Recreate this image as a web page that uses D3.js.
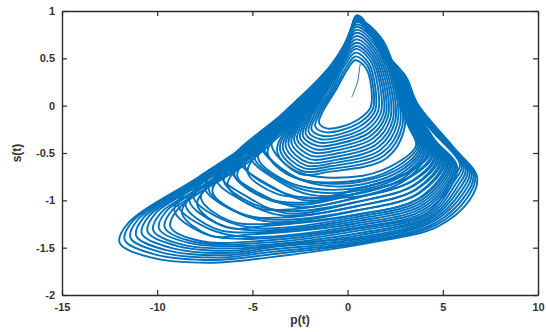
<!DOCTYPE html>
<html>
<head>
<meta charset="utf-8">
<script src="https://cdnjs.cloudflare.com/ajax/libs/d3/7.8.5/d3.min.js"></script>
<style>
  html, body { margin: 0; padding: 0; background: #fff; }
  svg text { font-family: "Liberation Sans", Arial, sans-serif; }
</style>
</head>
<body>
<svg id="chart" width="546" height="332"></svg>
<script>
// tick values
const xTicks = [-15, -10, -5, 0, 5, 10];
const yTicks = [-2, -1.5, -1, -0.5, 0, 0.5, 1];
const xLabel = 'p(t)';
const yLabel = 's(t)';

// loops, [p, s] pairs, innermost (around the hole) first
const innerLoops = [
  [[0.40,0.48],[0.95,0.40],[1.25,0.18],[1.2,-0.02],[0.6,-0.14],[-0.3,-0.22],[-1.1,-0.24],[-1.5,-0.18],[-1.3,-0.06],[-0.6,0.17],[-0.05,0.37]],
  [[0.42,0.56],[1.1,0.45],[1.45,0.2],[1.45,-0.05],[0.8,-0.2],[-0.4,-0.3],[-1.3,-0.32],[-1.9,-0.25],[-1.6,-0.09],[-0.8,0.17],[-0.2,0.41]],
  [[0.44,0.63],[1.25,0.5],[1.7,0.22],[1.75,-0.07],[1.0,-0.26],[-0.5,-0.37],[-1.5,-0.39],[-2.2,-0.3],[-1.9,-0.11],[-1.0,0.18],[-0.3,0.45]],
  [[0.45,0.70],[1.35,0.55],[1.9,0.24],[2.0,-0.1],[1.2,-0.32],[-0.6,-0.44],[-1.7,-0.46],[-2.5,-0.34],[-2.1,-0.12],[-1.1,0.2],[-0.35,0.5]],
  [[0.46,0.77],[1.45,0.6],[2.1,0.26],[2.25,-0.13],[1.4,-0.38],[-0.7,-0.51],[-1.9,-0.53],[-2.8,-0.37],[-2.3,-0.12],[-1.2,0.22],[-0.35,0.55]],
  [[0.46,0.83],[1.55,0.65],[2.3,0.27],[2.5,-0.16],[1.6,-0.44],[-0.8,-0.58],[-2.1,-0.6],[-3.1,-0.41],[-2.5,-0.13],[-1.3,0.24],[-0.3,0.6]],
  [[0.47,0.88],[1.65,0.7],[2.45,0.28],[2.75,-0.2],[1.8,-0.5],[-0.9,-0.64],[-2.3,-0.66],[-3.4,-0.45],[-2.6,-0.12],[-1.25,0.28],[-0.2,0.62]],
  [[0.48,0.91],[1.75,0.72],[2.6,0.28],[3.0,-0.22],[2.0,-0.56],[-1.0,-0.7],[-2.5,-0.72],[-3.7,-0.48],[-2.7,-0.1],[-1.15,0.33],[-0.1,0.66]]
];

// rings lying between the inner ones
const innerLoopsB = [
  [[0.41,0.52],[1.02,0.43],[1.35,0.19],[1.33,-0.035],[0.7,-0.17],[-0.35,-0.26],[-1.2,-0.28],[-1.7,-0.22],[-1.45,-0.075],[-0.7,0.17],[-0.12,0.39]],
  [[0.43,0.60],[1.18,0.48],[1.58,0.21],[1.6,-0.06],[0.9,-0.23],[-0.45,-0.335],[-1.4,-0.355],[-2.05,-0.275],[-1.75,-0.10],[-0.9,0.175],[-0.25,0.43]],
  [[0.445,0.665],[1.3,0.525],[1.8,0.23],[1.88,-0.085],[1.1,-0.29],[-0.55,-0.405],[-1.6,-0.425],[-2.35,-0.32],[-2.0,-0.115],[-1.05,0.19],[-0.32,0.475]],
  [[0.455,0.735],[1.4,0.575],[2.0,0.25],[2.12,-0.115],[1.3,-0.35],[-0.65,-0.475],[-1.8,-0.495],[-2.65,-0.355],[-2.2,-0.12],[-1.15,0.21],[-0.35,0.525]],
  [[0.46,0.80],[1.5,0.625],[2.2,0.265],[2.38,-0.145],[1.5,-0.41],[-0.75,-0.545],[-2.0,-0.565],[-2.95,-0.39],[-2.4,-0.125],[-1.25,0.23],[-0.32,0.575]],
  [[0.465,0.855],[1.6,0.675],[2.38,0.275],[2.62,-0.18],[1.7,-0.47],[-0.85,-0.61],[-2.2,-0.63],[-3.25,-0.43],[-2.55,-0.125],[-1.28,0.26],[-0.25,0.61]],
  [[0.475,0.895],[1.7,0.71],[2.52,0.28],[2.88,-0.21],[1.9,-0.53],[-0.95,-0.67],[-2.4,-0.69],[-3.55,-0.465],[-2.65,-0.11],[-1.2,0.3],[-0.15,0.64]]
];

const middleLoops = [
  [[0.48,0.92],[1.2,0.76],[1.9,0.5],[2.5,0.28],[2.75,0.02],[3.2,-0.22],[3.6,-0.42],[2.8,-0.58],[0.8,-0.74],[-2.6,-0.70],[-4.0,-0.41],[-3.2,-0.14],[-0.95,0.31],[0,0.64]],
  [[0.48,0.92],[1.2,0.76],[1.92,0.5],[2.53,0.28],[2.8,0.02],[3.3,-0.23],[3.76,-0.44],[2.9,-0.64],[0.8,-0.80],[-1.2,-0.82],[-2.9,-0.74],[-4.4,-0.44],[-3.6,-0.175],[-0.95,0.35],[0,0.66]],
  [[0.48,0.92],[1.2,0.76],[1.93,0.5],[2.56,0.28],[2.85,0.02],[3.4,-0.24],[3.92,-0.456],[3.0,-0.69],[0.8,-0.86],[-1.6,-0.88],[-3.2,-0.80],[-4.7,-0.55],[-3.9,-0.29],[-2.9,-0.11],[-0.95,0.29],[0,0.63]],
  [[0.48,0.92],[1.2,0.76],[1.95,0.5],[2.59,0.28],[2.9,0.02],[3.5,-0.25],[4.08,-0.474],[3.1,-0.74],[0.8,-0.92],[-2.0,-0.94],[-3.6,-0.80],[-5.1,-0.54],[-4.3,-0.28],[-2.9,-0.03],[-0.95,0.37],[0,0.676]],
  [[0.48,0.92],[1.2,0.76],[1.96,0.5],[2.62,0.28],[2.95,0.02],[3.6,-0.26],[4.24,-0.492],[3.2,-0.70],[0.5,-0.88],[-1.9,-0.98],[-3.9,-0.874],[-5.4,-0.634],[-4.6,-0.383],[-2.9,-0.08],[-0.95,0.32],[0,0.646]],
  [[0.48,0.92],[1.2,0.76],[1.98,0.5],[2.65,0.28],[3.0,0.02],[3.7,-0.27],[4.4,-0.51],[3.3,-0.745],[0.5,-0.925],[-2.3,-1.025],[-4.3,-0.978],[-5.8,-0.738],[-5.0,-0.504],[-2.9,-0.13],[-0.95,0.27],[0,0.616]],
  [[0.48,0.92],[1.2,0.76],[1.99,0.5],[2.68,0.28],[3.05,0.02],[3.8,-0.28],[4.56,-0.528],[3.4,-0.79],[0.5,-0.97],[-2.6,-1.07],[-4.6,-0.929],[-6.1,-0.689],[-5.3,-0.46],[-2.9,-0.04],[-0.95,0.36],[0,0.67]],
  [[0.48,0.92],[1.2,0.76],[2.0,0.5],[2.71,0.28],[3.1,0.02],[3.9,-0.29],[4.72,-0.546],[3.5,-0.835],[0.5,-1.015],[-3.0,-1.115],[-5.0,-1.034],[-6.5,-0.794],[-5.7,-0.565],[-2.9,-0.09],[-0.95,0.31],[0,0.64]],
  [[0.48,0.92],[1.2,0.76],[2.02,0.5],[2.74,0.28],[3.15,0.02],[4.0,-0.30],[4.88,-0.564],[3.6,-0.88],[0.5,-1.06],[-3.4,-1.16],[-5.4,-1.018],[-6.9,-0.778],[-6.1,-0.549],[-2.9,-0.02],[-0.95,0.38],[0,0.682]],
  [[0.48,0.92],[1.2,0.76],[2.03,0.5],[2.77,0.28],[3.2,0.02],[4.1,-0.31],[5.04,-0.582],[3.7,-0.925],[0.5,-1.105],[-3.8,-1.205],[-5.8,-1.122],[-7.3,-0.882],[-6.5,-0.654],[-5.15,-0.47],[-2.9,-0.07],[-0.95,0.33],[0,0.652]],
  [[0.48,0.92],[1.2,0.76],[2.05,0.5],[2.8,0.28],[3.25,0.02],[4.2,-0.32],[5.2,-0.60],[3.8,-0.97],[0.5,-1.15],[-4.2,-1.25],[-6.2,-1.217],[-7.7,-0.977],[-6.9,-0.748],[-5.15,-0.51],[-2.9,-0.11],[-0.95,0.29],[0,0.628]],
  [[0.48,0.92],[1.2,0.76],[2.06,0.5],[2.83,0.28],[3.3,0.02],[4.3,-0.33],[5.36,-0.618],[3.9,-0.995],[0.5,-1.175],[-4.6,-1.295],[-6.6,-1.20],[-8.1,-0.96],[-7.3,-0.732],[-5.15,-0.44],[-2.9,-0.04],[-0.95,0.36],[0,0.67]],
  [[0.48,0.92],[1.2,0.76],[2.08,0.5],[2.86,0.28],[3.35,0.02],[4.4,-0.34],[5.52,-0.636],[4.0,-1.04],[0.5,-1.22],[-5.0,-1.34],[-7.0,-1.295],[-8.5,-1.055],[-7.7,-0.827],[-5.15,-0.48],[-2.9,-0.08],[-0.95,0.32],[0,0.646]],
  [[0.48,0.92],[1.2,0.76],[2.1,0.5],[2.9,0.28],[3.4,0.02],[4.5,-0.35],[5.68,-0.654],[4.1,-1.085],[0.5,-1.265],[-5.4,-1.385],[-7.4,-1.29],[-8.9,-1.05],[-8.1,-0.82],[-5.15,-0.42],[-2.9,-0.02],[-0.95,0.38],[0,0.682]]
];

// second family of middle rings, lying between the ones above
const middleLoopsB = [
  [[0.47,0.91],[1.22,0.75],[1.91,0.5],[2.52,0.28],[2.78,0.02],[3.25,-0.225],[3.68,-0.43],[2.85,-0.61],[0.8,-0.78],[-2.8,-0.76],[-4.2,-0.501],[-3.4,-0.239],[-0.95,0.25],[0,0.604]],
  [[0.47,0.91],[1.22,0.75],[1.925,0.5],[2.55,0.28],[2.83,0.02],[3.35,-0.235],[3.84,-0.448],[2.95,-0.665],[0.8,-0.83],[-1.4,-0.84],[-3.05,-0.72],[-4.55,-0.424],[-3.75,-0.161],[-0.95,0.39],[0,0.688]],
  [[0.47,0.91],[1.22,0.75],[1.94,0.5],[2.58,0.28],[2.88,0.02],[3.45,-0.245],[4.0,-0.466],[3.05,-0.715],[0.8,-0.89],[-1.8,-0.91],[-3.4,-0.80],[-4.9,-0.546],[-4.1,-0.284],[-2.9,-0.07],[-0.95,0.33],[0,0.652]],
  [[0.47,0.91],[1.22,0.75],[1.955,0.5],[2.61,0.28],[2.93,0.02],[3.55,-0.255],[4.16,-0.484],[3.15,-0.77],[0.8,-0.95],[-2.1,-0.97],[-3.75,-0.93],[-5.25,-0.704],[-4.45,-0.446],[-2.9,-0.17],[-0.95,0.23],[0,0.592]],
  [[0.47,0.91],[1.22,0.75],[1.97,0.5],[2.64,0.28],[2.98,0.02],[3.65,-0.265],[4.32,-0.502],[3.25,-0.7025],[0.5,-0.8825],[-2.1,-1.0025],[-4.1,-0.841],[-5.6,-0.601],[-4.8,-0.358],[-2.9,-0.02],[-0.95,0.38],[0,0.682]],
  [[0.47,0.91],[1.22,0.75],[1.985,0.5],[2.67,0.28],[3.03,0.02],[3.75,-0.275],[4.48,-0.52],[3.35,-0.7475],[0.5,-0.9275],[-2.45,-1.0475],[-4.45,-0.969],[-5.95,-0.729],[-5.15,-0.50],[-2.9,-0.10],[-0.95,0.30],[0,0.634]],
  [[0.47,0.91],[1.22,0.75],[2.0,0.5],[2.7,0.28],[3.08,0.02],[3.85,-0.285],[4.64,-0.538],[3.45,-0.7925],[0.5,-0.9725],[-2.8,-1.0925],[-4.8,-1.076],[-6.3,-0.836],[-5.5,-0.608],[-2.9,-0.16],[-0.95,0.24],[0,0.598]],
  [[0.47,0.91],[1.22,0.75],[2.015,0.5],[2.73,0.28],[3.13,0.02],[3.95,-0.295],[4.8,-0.556],[3.55,-0.8375],[0.5,-1.0175],[-3.2,-1.1375],[-5.2,-0.971],[-6.7,-0.731],[-5.9,-0.502],[-2.9,0.0],[-0.95,0.40],[0,0.694]],
  [[0.47,0.91],[1.22,0.75],[2.03,0.5],[2.76,0.28],[3.18,0.02],[4.05,-0.305],[4.96,-0.574],[3.65,-0.8825],[0.5,-1.0625],[-3.6,-1.1825],[-5.6,-1.145],[-7.1,-0.905],[-6.3,-0.676],[-5.15,-0.52],[-2.9,-0.12],[-0.95,0.28],[0,0.622]],
  [[0.47,0.91],[1.22,0.75],[2.045,0.5],[2.79,0.28],[3.23,0.02],[4.15,-0.315],[5.12,-0.592],[3.75,-0.9275],[0.5,-1.1075],[-4.0,-1.2275],[-6.0,-1.11],[-7.5,-0.87],[-6.7,-0.641],[-5.15,-0.43],[-2.9,-0.03],[-0.95,0.37],[0,0.676]],
  [[0.47,0.91],[1.22,0.75],[2.06,0.5],[2.82,0.28],[3.28,0.02],[4.25,-0.325],[5.28,-0.61],[3.85,-0.9725],[0.5,-1.1525],[-4.4,-1.2725],[-6.4,-1.284],[-7.9,-1.044],[-7.1,-0.815],[-5.15,-0.55],[-2.9,-0.15],[-0.95,0.25],[0,0.604]],
  [[0.47,0.91],[1.22,0.75],[2.075,0.5],[2.85,0.28],[3.33,0.02],[4.35,-0.335],[5.44,-0.628],[3.95,-1.0175],[0.5,-1.1975],[-4.8,-1.3175],[-6.8,-1.248],[-8.3,-1.008],[-7.5,-0.78],[-5.15,-0.46],[-2.9,-0.06],[-0.95,0.34],[0,0.658]],
  [[0.47,0.91],[1.22,0.75],[2.09,0.5],[2.88,0.28],[3.38,0.02],[4.45,-0.345],[5.6,-0.646],[4.05,-1.0625],[0.5,-1.2425],[-5.2,-1.3625],[-7.2,-1.372],[-8.7,-1.132],[-7.9,-0.904],[-5.15,-0.53],[-2.9,-0.13],[-0.95,0.27],[0,0.616]],
  [[0.47,0.91],[1.22,0.75],[2.105,0.5],[2.91,0.28],[3.43,0.02],[4.55,-0.355],[5.76,-0.664],[4.15,-1.1075],[0.5,-1.2875],[-5.6,-1.4075],[-7.6,-1.346],[-9.1,-1.106],[-8.3,-0.878],[-5.15,-0.45],[-2.9,-0.05],[-0.95,0.35],[0,0.664]]
];

const outerLoops = [
  [[0.5,0.95],[1.3,0.77],[2.1,0.51],[2.9,0.3],[3.4,0.02],[4.4,-0.26],[5.9,-0.62],[5.5,-0.77],[4.2,-1.13],[0.5,-1.30],[-4.6,-1.43],[-7.73,-1.43],[-9.3,-1.28],[-8.9,-1.09],[-5.15,-0.59],[-2.9,-0.19],[-0.95,0.21],[0,0.58]],
  [[0.5,0.95],[1.3,0.77],[2.11,0.51],[2.92,0.3],[3.43,0.02],[4.53,-0.28],[6.0,-0.635],[5.6,-0.795],[4.26,-1.145],[0.57,-1.32],[-4.9,-1.455],[-8.03,-1.44],[-9.6,-1.29],[-9.2,-1.10],[-7.8,-0.92],[-5.15,-0.56],[-2.9,-0.16],[-0.95,0.24],[0,0.60]],
  [[0.5,0.95],[1.3,0.77],[2.12,0.51],[2.94,0.3],[3.46,0.02],[4.66,-0.30],[6.1,-0.65],[5.7,-0.82],[4.31,-1.16],[0.64,-1.345],[-5.2,-1.48],[-8.33,-1.45],[-9.9,-1.30],[-9.5,-1.11],[-7.8,-0.89],[-5.15,-0.53],[-2.9,-0.13],[-0.95,0.27],[0,0.616]],
  [[0.5,0.95],[1.3,0.77],[2.13,0.51],[2.96,0.3],[3.49,0.02],[4.79,-0.32],[6.2,-0.665],[5.8,-0.845],[4.37,-1.175],[0.71,-1.365],[-5.5,-1.505],[-8.63,-1.47],[-10.2,-1.32],[-9.8,-1.13],[-7.8,-0.87],[-5.15,-0.51],[-2.9,-0.11],[-0.95,0.29],[0,0.628]],
  [[0.5,0.95],[1.3,0.77],[2.14,0.51],[2.98,0.3],[3.52,0.02],[4.92,-0.34],[6.3,-0.68],[5.9,-0.87],[4.42,-1.19],[0.78,-1.385],[-4,-1.47],[-5.8,-1.53],[-8.93,-1.484],[-10.5,-1.334],[-10.1,-1.14],[-7.8,-0.84],[-5.15,-0.48],[-2.9,-0.08],[-0.95,0.32],[0,0.646]],
  [[0.5,0.95],[1.3,0.77],[2.15,0.51],[3.0,0.3],[3.55,0.02],[5.05,-0.36],[6.4,-0.695],[6.0,-0.895],[4.48,-1.205],[0.85,-1.40],[-4,-1.495],[-6.1,-1.555],[-9.23,-1.505],[-10.8,-1.355],[-10.4,-1.16],[-7.8,-0.82],[-5.15,-0.46],[-2.9,-0.06],[-0.95,0.34],[0,0.658]],
  [[0.5,0.95],[1.3,0.77],[2.16,0.51],[3.02,0.3],[3.58,0.02],[5.18,-0.38],[6.5,-0.71],[6.1,-0.92],[4.53,-1.22],[0.92,-1.415],[-4,-1.52],[-6.4,-1.58],[-9.53,-1.526],[-11.1,-1.376],[-10.7,-1.18],[-7.8,-0.80],[-5.15,-0.44],[-2.9,-0.04],[-0.95,0.36],[0,0.67]],
  [[0.5,0.95],[1.3,0.77],[2.17,0.51],[3.04,0.3],[3.61,0.02],[5.31,-0.40],[6.6,-0.725],[6.2,-0.945],[4.59,-1.24],[0.99,-1.43],[-4,-1.545],[-6.7,-1.605],[-9.83,-1.547],[-11.4,-1.397],[-11.0,-1.20],[-7.8,-0.78],[-5.15,-0.42],[-2.9,-0.02],[-0.95,0.38],[0,0.682]],
  [[0.5,0.95],[1.3,0.77],[2.18,0.51],[3.06,0.3],[3.64,0.02],[5.44,-0.42],[6.7,-0.74],[6.3,-0.97],[4.64,-1.26],[1.06,-1.44],[-4,-1.57],[-7.0,-1.63],[-10.13,-1.57],[-11.7,-1.42],[-11.3,-1.223],[-7.8,-0.765],[-5.15,-0.405],[-2.9,-0.005],[-0.95,0.395],[0,0.691]],
  [[0.5,0.95],[1.3,0.77],[2.19,0.51],[3.08,0.3],[3.67,0.02],[5.57,-0.44],[6.8,-0.755],[6.4,-1.0],[4.7,-1.28],[1.13,-1.45],[-4,-1.60],[-7.27,-1.66],[-10.4,-1.6],[-11.97,-1.45],[-11.57,-1.25],[-7.8,-0.75],[-5.15,-0.39],[-2.9,0.01],[-0.95,0.41],[0,0.70]]
];

// short start-up piece inside the hole
const transient = [[0.66,0.44],[0.62,0.38],[0.52,0.25],[0.22,0.09]];

const margin = { left: 62, right: 8, top: 11, bottom: 37 };
const W = 546, H = 332;

const svg = d3.select('#chart');

const x = d3.scaleLinear().domain([-15, 10]).range([margin.left, W - margin.right]);
const y = d3.scaleLinear().domain([-2, 1]).range([H - margin.bottom, margin.top]);

svg.append('defs').append('clipPath').attr('id', 'plotClip')
  .append('rect')
  .attr('x', x(-15)).attr('y', y(1))
  .attr('width', x(10) - x(-15)).attr('height', y(-2) - y(1));

const lineColor = '#0072BD';

const closedLine = d3.line()
  .x(function (d) { return x(d[0]); })
  .y(function (d) { return y(d[1]); })
  .curve(d3.curveCatmullRomClosed.alpha(0.5));

const openLine = d3.line()
  .x(function (d) { return x(d[0]); })
  .y(function (d) { return y(d[1]); })
  .curve(d3.curveCatmullRom.alpha(0.5));

const plot = svg.append('g').attr('clip-path', 'url(#plotClip)');

const allLoops = innerLoops.concat(innerLoopsB, middleLoops, middleLoopsB, outerLoops);

plot.selectAll('path.loop')
  .data(allLoops)
  .enter().append('path')
  .attr('class', 'loop')
  .attr('d', closedLine)
  .attr('fill', 'none')
  .attr('stroke', lineColor)
  .attr('stroke-width', 1.9)
  .attr('stroke-linejoin', 'round');

plot.append('path')
  .attr('d', openLine(transient))
  .attr('fill', 'none')
  .attr('stroke', '#3b6f9a')
  .attr('stroke-width', 1);

// axes, MATLAB style: box with inward ticks
const fmt = function (d) { return String(d); };
const axisColor = '#2b2b2b';

const gx = svg.append('g')
  .attr('transform', 'translate(0,' + y(-2) + ')')
  .call(d3.axisBottom(x).tickValues(xTicks).tickSize(-5).tickSizeOuter(0).tickPadding(8).tickFormat(fmt));

const gxTop = svg.append('g')
  .attr('transform', 'translate(0,' + y(1) + ')')
  .call(d3.axisTop(x).tickValues(xTicks).tickSize(-5).tickSizeOuter(0).tickFormat(''));

const gy = svg.append('g')
  .attr('transform', 'translate(' + x(-15) + ',0)')
  .call(d3.axisLeft(y).tickValues(yTicks).tickSize(-5).tickSizeOuter(0).tickPadding(7).tickFormat(fmt));

const gyRight = svg.append('g')
  .attr('transform', 'translate(' + x(10) + ',0)')
  .call(d3.axisRight(y).tickValues(yTicks).tickSize(-5).tickSizeOuter(0).tickFormat(''));

[gx, gxTop, gy, gyRight].forEach(function (g) {
  g.select('.domain').attr('stroke', axisColor).attr('stroke-width', 1.4);
  g.selectAll('.tick line').attr('stroke', axisColor).attr('stroke-width', 1.2);
  g.selectAll('.tick text')
    .attr('fill', '#333')
    .style('font-size', '11px')
    .style('font-weight', 'bold');
});

svg.append('text')
  .attr('x', (x(-15) + x(10)) / 2)
  .attr('y', 324)
  .attr('text-anchor', 'middle')
  .attr('fill', '#333')
  .style('font-size', '12px')
  .style('font-weight', 'bold')
  .text(xLabel);

svg.append('text')
  .attr('transform', 'translate(21,' + ((y(1) + y(-2)) / 2) + ') rotate(-90)')
  .attr('text-anchor', 'middle')
  .attr('fill', '#333')
  .style('font-size', '12px')
  .style('font-weight', 'bold')
  .text(yLabel);
</script>
</body>
</html>
